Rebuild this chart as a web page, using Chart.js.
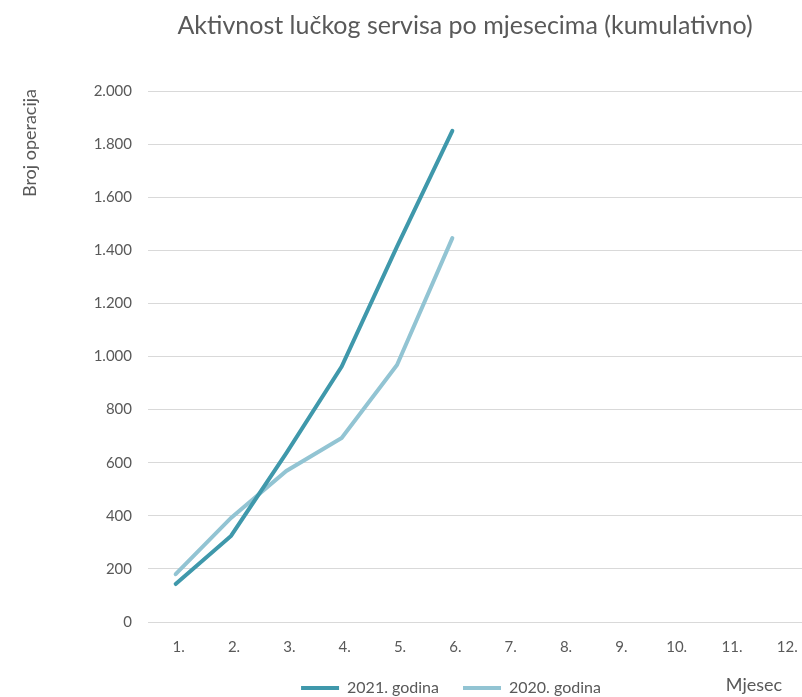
<!DOCTYPE html>
<html>
<head>
<meta charset="utf-8">
<script src="https://cdn.jsdelivr.net/npm/chart.js@4"></script>
<style>
  html, body { margin: 0; padding: 0; background: #fff; overflow: hidden; }
  #wrap { width: 812px; height: 697px; }
</style>
</head>
<body>
<div id="wrap"><canvas id="chart" width="812" height="697"></canvas></div>
<script>
const months = ['1.', '2.', '3.', '4.', '5.', '6.', '7.', '8.', '9.', '10.', '11.', '12.'];
const ops2021 = [143, 324, 636, 962, 1414, 1850];
const ops2020 = [180, 392, 569, 693, 968, 1446];
const yTicks = [0, 200, 400, 600, 800, 1000, 1200, 1400, 1600, 1800, 2000];

const textColor = '#595959';
const fontFamily = 'Lato, "Open Sans", sans-serif';

const fmt = v => v.toLocaleString('de-DE');

// title and axis titles sit off-centre in the original, so draw them by hand
const freeTexts = {
    id: 'freeTexts',
    afterDraw(chart) {
        const ctx = chart.ctx;
        ctx.save();
        ctx.fillStyle = textColor;
        ctx.textAlign = 'center';
        ctx.font = `25px ${fontFamily}`;
        ctx.textBaseline = 'alphabetic';
        ctx.fillText('Aktivnost lučkog servisa po mjesecima (kumulativno)', 465, 34);

        ctx.font = `18px ${fontFamily}`;
        ctx.textBaseline = 'middle';
        ctx.fillText('Mjesec', 754, 685);

        ctx.translate(30, 143);
        ctx.rotate(-Math.PI / 2);
        ctx.fillText('Broj operacija', 0, 0);
        ctx.restore();
    }
};

new Chart(document.getElementById('chart'), {
    type: 'line',
    data: {
        labels: months,
        datasets: [
            {
                label: '2021. godina',
                data: ops2021,
                borderColor: '#3f98ab',
                backgroundColor: '#3f98ab',
                borderWidth: 4,
                pointRadius: 0,
                borderCapStyle: 'round',
                tension: 0
            },
            {
                label: '2020. godina',
                data: ops2020,
                borderColor: '#92c4d3',
                backgroundColor: '#92c4d3',
                borderWidth: 4,
                pointRadius: 0,
                borderCapStyle: 'round',
                tension: 0
            }
        ]
    },
    options: {
        responsive: false,
        animation: false,
        layout: { padding: { left: 90, right: 0, top: 91, bottom: -9 } },
        plugins: {
            title: { display: false },
            legend: {
                position: 'bottom',
                labels: {
                    usePointStyle: true,
                    pointStyle: 'line',
                    pointStyleWidth: 38,
                    boxWidth: 38,
                    color: textColor,
                    font: { family: fontFamily, size: 16 },
                    padding: 24
                }
            },
            tooltip: { enabled: false }
        },
        scales: {
            x: {
                offset: true,
                grid: { display: false, drawTicks: false },
                border: { display: false },
                ticks: { color: textColor, font: { family: fontFamily, size: 15 }, padding: 16, maxRotation: 0, labelOffset: 3 },
                afterFit(scale) { scale.height = 34; }
            },
            y: {
                min: 0,
                max: 2000,
                afterBuildTicks(scale) { scale.ticks = yTicks.map(v => ({ value: v })); },
                grid: { color: '#d9d9d9', lineWidth: 1, drawTicks: false },
                border: { display: false },
                ticks: { color: textColor, font: { family: fontFamily, size: 15 }, padding: 16, callback: v => fmt(v) },
                afterFit(scale) { scale.width = 58; }
            }
        }
    },
    plugins: [freeTexts]
});
</script>
</body>
</html>
